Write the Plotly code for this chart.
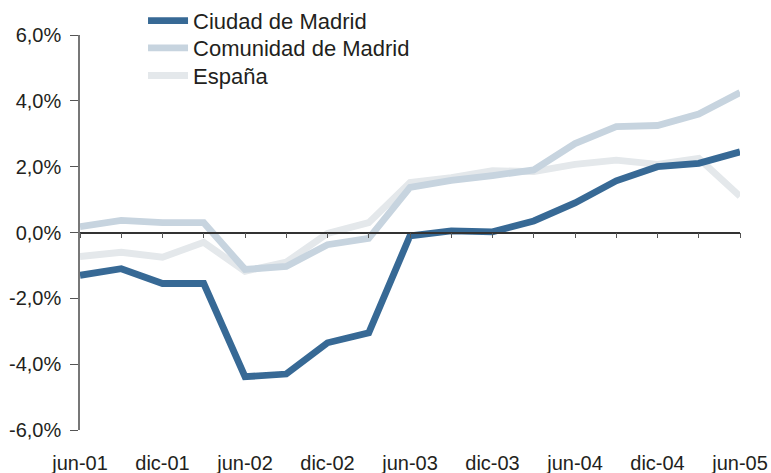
import plotly.graph_objs as go

# trimestres jun-01 .. jun-05
periodos = ['jun-01', 'sep-01', 'dic-01', 'mar-02', 'jun-02', 'sep-02', 'dic-02', 'mar-03',
            'jun-03', 'sep-03', 'dic-03', 'mar-04', 'jun-04', 'sep-04', 'dic-04', 'mar-05', 'jun-05']

ciudad = [-1.30, -1.10, -1.55, -1.55, -4.38, -4.30, -3.35, -3.05,
          -0.10, 0.05, 0.02, 0.35, 0.90, 1.57, 2.00, 2.10, 2.45]
comunidad = [0.18, 0.37, 0.30, 0.30, -1.12, -1.03, -0.37, -0.18,
             1.37, 1.58, 1.73, 1.90, 2.70, 3.22, 3.25, 3.60, 4.25]
espana = [-0.73, -0.60, -0.75, -0.30, -1.18, -0.90, -0.03, 0.30,
          1.52, 1.67, 1.88, 1.85, 2.07, 2.20, 2.07, 2.25, 1.10]

y_ticks = [-6, -4, -2, 0, 2, 4, 6]
y_labels = ['-6,0%', '-4,0%', '-2,0%', '0,0%', '2,0%', '4,0%', '6,0%']

x = list(range(len(periodos)))
x_ticks = x[::2]
x_labels = periodos[::2]

FONT = 'Liberation Sans, Arial, sans-serif'

fig = go.Figure()
# order: lighter lines below, dark on top; one legend box per series to control row spacing
series = [
    ('España', espana, '#e4e8eb', 'legend3'),
    ('Comunidad de Madrid', comunidad, '#c7d4df', 'legend2'),
    ('Ciudad de Madrid', ciudad, '#376995', 'legend'),
]
for name, vals, color, leg in series:
    fig.add_trace(go.Scatter(
        x=x, y=vals, name=name, mode='lines',
        line=dict(color=color, width=6.8),
        hoverinfo='skip', legend=leg,
    ))

# axis line with ticks at 0
fig.add_trace(go.Scatter(x=x, y=[None] * len(x), xaxis='x2', showlegend=False, hoverinfo='skip'))

def legend_box(y):
    return dict(
        x=0.0955, y=y, xanchor='left', yanchor='middle',
        bgcolor='rgba(0,0,0,0)', font=dict(size=22), itemwidth=40,
    )

fig.update_layout(
    width=771, height=473,
    margin=dict(l=80, r=31, t=35, b=43, autoexpand=False),
    plot_bgcolor='white', paper_bgcolor='white',
    font=dict(family=FONT, size=20, color='#231f20'),
    showlegend=True,
    legend=legend_box(1.036),
    legend2=legend_box(0.967),
    legend3=legend_box(0.897),
    xaxis=dict(
        range=[0, 16], tickmode='array', tickvals=x_ticks, ticktext=x_labels,
        showgrid=False, zeroline=False, showline=False, ticks='',
        ticklabelstandoff=19, fixedrange=True, automargin=False,
    ),
    xaxis2=dict(
        range=[0, 16], overlaying='x', anchor='free', position=0.5, side='bottom',
        tickmode='array', tickvals=x, showticklabels=False,
        showline=True, linecolor='#333333', linewidth=1.5,
        ticks='outside', ticklen=5, tickcolor='#555555', tickwidth=1.2,
        showgrid=False, zeroline=False, automargin=False,
    ),
    yaxis=dict(
        range=[-6, 6], tickmode='array', tickvals=y_ticks, ticktext=y_labels,
        showgrid=False, zeroline=False, showline=True, linecolor='#777777', linewidth=1.5,
        ticks='outside', ticklen=8, tickcolor='#555555', tickwidth=1.2,
        ticklabelstandoff=5, automargin=False,
    ),
)

# drop the default page margin so the figure sits at the window corner
fig.write_html("out.html", config={'displayModeBar': False},
               post_script="document.body.style.margin='0';")
